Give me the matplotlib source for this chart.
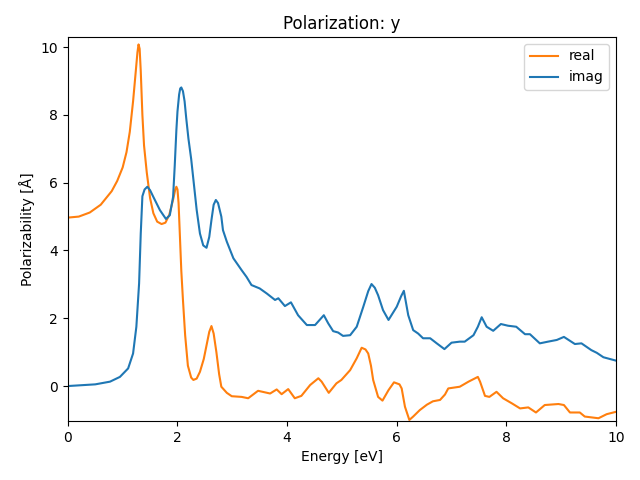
import matplotlib
matplotlib.use("Agg")
import matplotlib.pyplot as plt

# ── Data ──────────────────────────────────────────────────────────────────────

energy_real = [0.0, 0.2, 0.4, 0.6, 0.8, 0.9, 1.0, 1.07, 1.13, 1.19, 1.24, 1.27,
               1.29, 1.31, 1.33, 1.36, 1.39, 1.44, 1.5, 1.56, 1.63, 1.71, 1.78,
               1.85, 1.92, 1.96, 1.98, 2.0, 2.02, 2.04, 2.07, 2.10, 2.14, 2.19,
               2.25, 2.29, 2.35, 2.41, 2.48, 2.53, 2.58, 2.62, 2.66, 2.71, 2.76,
               2.80, 2.9, 2.99, 3.17, 3.29, 3.38, 3.47, 3.58, 3.69, 3.81, 3.90,
               4.02, 4.14, 4.26, 4.42, 4.57, 4.63, 4.76, 4.90, 4.99, 5.15, 5.27,
               5.36, 5.43, 5.48, 5.53, 5.57, 5.66, 5.74, 5.85, 5.95, 6.05, 6.09,
               6.15, 6.23, 6.30, 6.42, 6.55, 6.66, 6.79, 6.88, 6.94, 7.15, 7.31,
               7.48, 7.52, 7.61, 7.69, 7.82, 7.94, 8.10, 8.25, 8.40, 8.54, 8.70,
               8.95, 9.05, 9.16, 9.34, 9.43, 9.68, 9.83, 10.0]
real = [4.97, 5.0, 5.12, 5.35, 5.75, 6.05, 6.45, 6.9, 7.5, 8.4, 9.3, 9.85,
        10.08, 9.95, 9.3, 8.0, 7.1, 6.3, 5.55, 5.1, 4.85, 4.78, 4.82,
        5.05, 5.5, 5.8, 5.88, 5.8, 5.4, 4.6, 3.4, 2.54, 1.5, 0.6,
        0.25, 0.18, 0.22, 0.42, 0.8, 1.2, 1.6, 1.77, 1.55, 1.0, 0.35,
        -0.02, -0.2, -0.3, -0.32, -0.36, -0.25, -0.14, -0.18, -0.22, -0.10, -0.24,
        -0.09, -0.36, -0.29, 0.03, 0.23, 0.13, -0.20, 0.08, 0.18, 0.47, 0.82,
        1.13, 1.08, 0.96, 0.6, 0.18, -0.32, -0.43, -0.12, 0.11, 0.05, -0.07,
        -0.61, -1.0, -0.90, -0.71, -0.55, -0.45, -0.41, -0.25, -0.07, -0.02, 0.13,
        0.27, 0.13, -0.29, -0.32, -0.17, -0.36, -0.51, -0.66, -0.63, -0.78, -0.56,
        -0.53, -0.56, -0.78, -0.78, -0.90, -0.95, -0.83, -0.76]

energy_imag = [0.0, 0.5, 0.77, 0.95, 1.10, 1.19, 1.25, 1.30, 1.33, 1.36, 1.40,
               1.45, 1.50, 1.56, 1.68, 1.79, 1.86, 1.92, 1.95, 1.98, 2.0, 2.03,
               2.05, 2.07, 2.10, 2.13, 2.16, 2.20, 2.25, 2.29, 2.35, 2.41, 2.47,
               2.53, 2.58, 2.62, 2.66, 2.70, 2.74, 2.80, 2.83, 2.90, 3.02, 3.17,
               3.26, 3.35, 3.50, 3.63, 3.78, 3.84, 3.96, 4.07, 4.20, 4.36, 4.51,
               4.67, 4.75, 4.84, 4.93, 5.02, 5.15, 5.27, 5.39, 5.48, 5.54, 5.60,
               5.66, 5.75, 5.85, 6.00, 6.08, 6.13, 6.17, 6.21, 6.30, 6.39, 6.48,
               6.61, 6.73, 6.87, 7.0, 7.15, 7.24, 7.40, 7.48, 7.55, 7.64, 7.76,
               7.90, 8.03, 8.18, 8.34, 8.43, 8.61, 8.76, 8.92, 9.05, 9.25, 9.37,
               9.55, 9.65, 9.77, 10.0]
imag = [0.0, 0.05, 0.13, 0.27, 0.52, 0.96, 1.75, 3.03, 4.5, 5.6, 5.8,
        5.88, 5.78, 5.58, 5.19, 4.93, 5.04, 5.58, 6.5, 7.55, 8.1, 8.6,
        8.78, 8.81, 8.7, 8.4, 7.9, 7.3, 6.7, 6.1, 5.2, 4.5, 4.15,
        4.08, 4.4, 4.9, 5.35, 5.49, 5.4, 5.0, 4.6, 4.26, 3.77, 3.42,
        3.22, 2.98, 2.88, 2.73, 2.54, 2.59, 2.36, 2.47, 2.09, 1.80, 1.80,
        2.09, 1.85, 1.62, 1.58, 1.48, 1.50, 1.75, 2.34, 2.8, 3.01, 2.9,
        2.68, 2.24, 1.95, 2.34, 2.65, 2.81, 2.45, 2.09, 1.65, 1.55, 1.41,
        1.41, 1.26, 1.09, 1.28, 1.31, 1.31, 1.50, 1.75, 2.03, 1.75, 1.63,
        1.83, 1.78, 1.75, 1.53, 1.53, 1.26, 1.31, 1.36, 1.45, 1.24, 1.26,
        1.06, 0.98, 0.85, 0.75]

# ── Figure ────────────────────────────────────────────────────────────────────

fig, ax = plt.subplots(figsize=(6.4, 4.8), dpi=100)
ax.plot(energy_real, real, color="C1", label="real")
ax.plot(energy_imag, imag, color="C0", label="imag")
ax.set_xlim(0, 10)
ax.set_ylim(-1.03, 10.3)
ax.set_xlabel("Energy [eV]")
ax.set_ylabel("Polarizability [Å]")
ax.set_title("Polarization: y")
ax.legend(loc="upper right")

fig.subplots_adjust(left=0.106, right=0.9625, top=0.923, bottom=0.123)
fig.savefig("out.png", dpi=100)
plt.close()
